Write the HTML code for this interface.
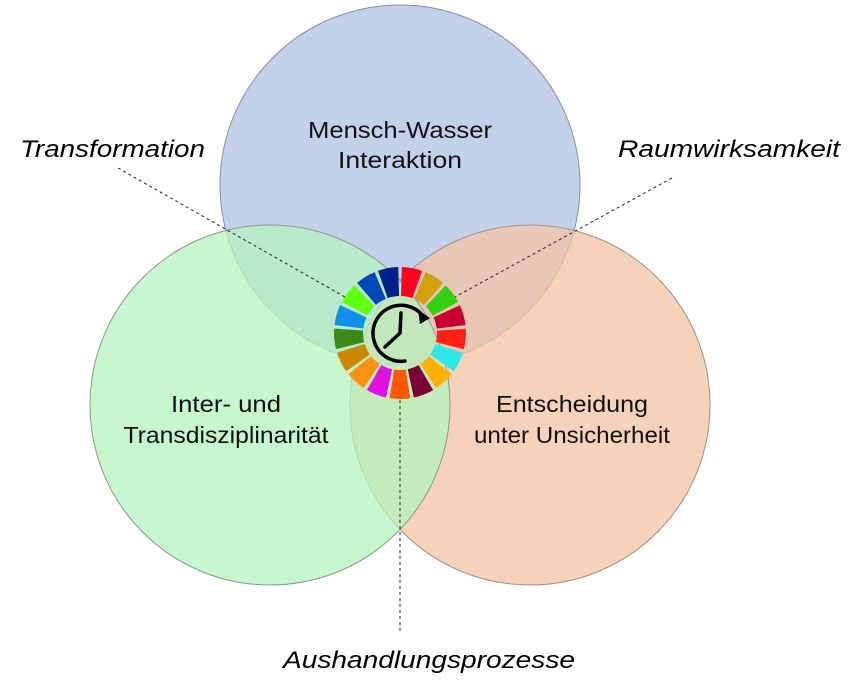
<!DOCTYPE html>
<html><head><meta charset="utf-8"><style>
html,body{margin:0;padding:0;background:#fff;}
svg{display:block;}
text{font-family:"Liberation Sans",sans-serif;}
</style></head><body>
<svg width="856" height="693" viewBox="0 0 856 693" xmlns="http://www.w3.org/2000/svg">
<circle cx="400" cy="185" r="180" fill="#c3d0ea" stroke="#8a8fa0" stroke-width="1"/>
<circle cx="530" cy="405" r="180" fill="#f3c3a3" fill-opacity="0.75" stroke="#a09080" stroke-width="1"/>
<circle cx="270" cy="405" r="180" fill="#b4f2bc" fill-opacity="0.75" stroke="#8a9a8a" stroke-width="1"/>
<g stroke="#222" stroke-width="1" stroke-dasharray="3,3" fill="none">
<line x1="118" y1="168" x2="345" y2="297"/>
<line x1="672" y1="178" x2="455" y2="297"/>
<line x1="400" y1="400" x2="400" y2="634"/>
</g>
<g>
<path d="M389.68 267.81 A66 66 0 0 1 410.32 267.81 L405.79 296.46 A37 37 0 0 0 394.21 296.46 Z" fill="#ff0020" transform="rotate(10.6 400 333)"/>
<path d="M389.68 267.81 A66 66 0 0 1 410.32 267.81 L405.79 296.46 A37 37 0 0 0 394.21 296.46 Z" fill="#d3a010" transform="rotate(31.8 400 333)"/>
<path d="M389.68 267.81 A66 66 0 0 1 410.32 267.81 L405.79 296.46 A37 37 0 0 0 394.21 296.46 Z" fill="#33d010" transform="rotate(52.9 400 333)"/>
<path d="M389.68 267.81 A66 66 0 0 1 410.32 267.81 L405.79 296.46 A37 37 0 0 0 394.21 296.46 Z" fill="#c8002a" transform="rotate(74.1 400 333)"/>
<path d="M389.68 267.81 A66 66 0 0 1 410.32 267.81 L405.79 296.46 A37 37 0 0 0 394.21 296.46 Z" fill="#ff2018" transform="rotate(95.3 400 333)"/>
<path d="M389.68 267.81 A66 66 0 0 1 410.32 267.81 L405.79 296.46 A37 37 0 0 0 394.21 296.46 Z" fill="#2ee8e8" transform="rotate(116.5 400 333)"/>
<path d="M389.68 267.81 A66 66 0 0 1 410.32 267.81 L405.79 296.46 A37 37 0 0 0 394.21 296.46 Z" fill="#ffb000" transform="rotate(137.7 400 333)"/>
<path d="M389.68 267.81 A66 66 0 0 1 410.32 267.81 L405.79 296.46 A37 37 0 0 0 394.21 296.46 Z" fill="#7a0038" transform="rotate(158.9 400 333)"/>
<path d="M389.68 267.81 A66 66 0 0 1 410.32 267.81 L405.79 296.46 A37 37 0 0 0 394.21 296.46 Z" fill="#ff5a00" transform="rotate(180.1 400 333)"/>
<path d="M389.68 267.81 A66 66 0 0 1 410.32 267.81 L405.79 296.46 A37 37 0 0 0 394.21 296.46 Z" fill="#e010e0" transform="rotate(201.2 400 333)"/>
<path d="M389.68 267.81 A66 66 0 0 1 410.32 267.81 L405.79 296.46 A37 37 0 0 0 394.21 296.46 Z" fill="#ff9010" transform="rotate(222.4 400 333)"/>
<path d="M389.68 267.81 A66 66 0 0 1 410.32 267.81 L405.79 296.46 A37 37 0 0 0 394.21 296.46 Z" fill="#cc8800" transform="rotate(243.6 400 333)"/>
<path d="M389.68 267.81 A66 66 0 0 1 410.32 267.81 L405.79 296.46 A37 37 0 0 0 394.21 296.46 Z" fill="#3a8a18" transform="rotate(264.8 400 333)"/>
<path d="M389.68 267.81 A66 66 0 0 1 410.32 267.81 L405.79 296.46 A37 37 0 0 0 394.21 296.46 Z" fill="#1090e8" transform="rotate(286 400 333)"/>
<path d="M389.68 267.81 A66 66 0 0 1 410.32 267.81 L405.79 296.46 A37 37 0 0 0 394.21 296.46 Z" fill="#60ff10" transform="rotate(307.2 400 333)"/>
<path d="M389.68 267.81 A66 66 0 0 1 410.32 267.81 L405.79 296.46 A37 37 0 0 0 394.21 296.46 Z" fill="#0048b8" transform="rotate(328.4 400 333)"/>
<path d="M389.68 267.81 A66 66 0 0 1 410.32 267.81 L405.79 296.46 A37 37 0 0 0 394.21 296.46 Z" fill="#002090" transform="rotate(349.5 400 333)"/>
</g>
<g stroke="#000" stroke-width="3.5" fill="none" stroke-linecap="round">
<path d="M405 361 A28 28 0 1 1 423 316"/>
<line x1="400" y1="333" x2="401" y2="313"/>
<line x1="400" y1="333" x2="385" y2="347"/>
</g>
<polygon points="418,310 430,318 420,324" fill="#000"/>
<g font-size="23" fill="#111" text-anchor="middle">
<text x="400" y="138" textLength="184" lengthAdjust="spacingAndGlyphs">Mensch-Wasser</text>
<text x="400" y="168" textLength="124" lengthAdjust="spacingAndGlyphs">Interaktion</text>
<text x="226" y="412" textLength="110" lengthAdjust="spacingAndGlyphs">Inter- und</text>
<text x="226" y="443" textLength="205" lengthAdjust="spacingAndGlyphs">Transdisziplinarität</text>
<text x="572" y="412" textLength="152" lengthAdjust="spacingAndGlyphs">Entscheidung</text>
<text x="572" y="443" textLength="196" lengthAdjust="spacingAndGlyphs">unter Unsicherheit</text>
</g>
<g font-size="24" font-style="italic" fill="#000">
<text x="20" y="157" textLength="185" lengthAdjust="spacingAndGlyphs">Transformation</text>
<text x="618" y="157" textLength="222" lengthAdjust="spacingAndGlyphs">Raumwirksamkeit</text>
<text x="283" y="668" textLength="292" lengthAdjust="spacingAndGlyphs">Aushandlungsprozesse</text>
</g>
</svg>
</body></html>
